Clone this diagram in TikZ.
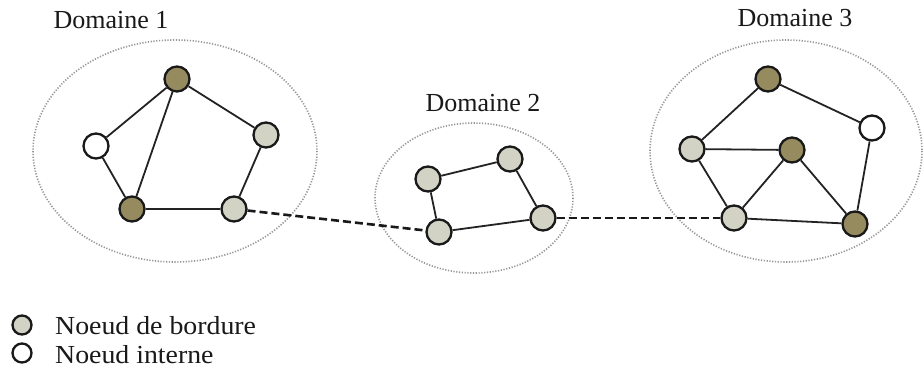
\documentclass[tikz,border=0pt]{standalone}
\usepackage{fontspec}
\setmainfont{Liberation Serif}
\definecolor{brownfill}{RGB}{150,138,95}
\definecolor{grayfill}{RGB}{210,211,196}
\definecolor{dotgray}{RGB}{150,150,150}
\definecolor{edgecol}{RGB}{35,35,35}
\begin{document}
\begin{tikzpicture}[x=1pt,y=-1pt,
  nd/.style={circle,draw=black!90,line width=2.3pt,minimum size=25pt,inner sep=0pt},
  bnode/.style={nd,fill=brownfill},
  gnode/.style={nd,fill=grayfill},
  wnode/.style={nd,fill=white},
  conn/.style={draw=edgecol,line width=1.8pt},
  ilink/.style={draw=black!90,line width=2.6pt,dash pattern=on 8pt off 4pt},
  domarea/.style={draw=dotgray,line width=1.6pt,dash pattern=on 1.2pt off 1.6pt},
  lbl/.style={font=\fontsize{26}{29}\selectfont,text=black!90,inner sep=0pt},
  lnode/.style={circle,draw=black!90,line width=2.3pt,minimum size=19pt,inner sep=0pt}]
\useasboundingbox (0,0) rectangle (923,381);
\fill[white] (0,0) rectangle (923,381);
% domain ellipses
\draw[domarea] (175,151) ellipse [x radius=142,y radius=111];
\draw[domarea] (474,198) ellipse [x radius=99,y radius=75];
\draw[domarea] (786,151) ellipse [x radius=136,y radius=111];
% titles
\node[lbl] (t1) at (111,20) {Domaine 1};
\node[lbl] (t2) at (483,103) {Domaine 2};
\node[lbl] (t3) at (795,18) {Domaine 3};
% Domain 1 nodes
\node[bnode] (a1) at (177,79) {};
\node[wnode] (a2) at (96,146) {};
\node[gnode] (a3) at (266,135) {};
\node[bnode] (a4) at (132,209) {};
\node[gnode] (a5) at (234,209) {};
% Domain 2 nodes
\node[gnode] (b1) at (428,179) {};
\node[gnode] (b2) at (510,159) {};
\node[gnode] (b3) at (543,218) {};
\node[gnode] (b4) at (439,232) {};
% Domain 3 nodes
\node[bnode] (c1) at (768,79) {};
\node[wnode] (c2) at (872,128) {};
\node[gnode] (c3) at (692,149) {};
\node[bnode] (c4) at (792,150) {};
\node[gnode] (c5) at (734,218) {};
\node[bnode] (c6) at (855,224) {};
% edges
\draw[conn] (a1) -- (a2);
\draw[conn] (a1) -- (a4);
\draw[conn] (a1) -- (a3);
\draw[conn] (a2) -- (a4);
\draw[conn] (a4) -- (a5);
\draw[conn] (a5) -- (a3);
\draw[conn] (b1) -- (b2);
\draw[conn] (b2) -- (b3);
\draw[conn] (b3) -- (b4);
\draw[conn] (b4) -- (b1);
\draw[conn] (c1) -- (c2);
\draw[conn] (c1) -- (c3);
\draw[conn] (c3) -- (c4);
\draw[conn] (c3) -- (c5);
\draw[conn] (c4) -- (c5);
\draw[conn] (c4) -- (c6);
\draw[conn] (c5) -- (c6);
\draw[conn] (c2) -- (c6);
% inter-domain links
\draw[ilink] (a5) -- (b4);
\draw[ilink] (b3) -- (c5);
% legend
\node[lnode,fill=grayfill] (l1) at (22,325) {};
\node[lbl,anchor=west,xscale=1.07] (l1t) at (55,326) {Noeud de bordure};
\node[lnode,fill=white] (l2) at (22,353) {};
\node[lbl,anchor=west,xscale=1.07] (l2t) at (55,355) {Noeud interne};
\end{tikzpicture}
\end{document}
